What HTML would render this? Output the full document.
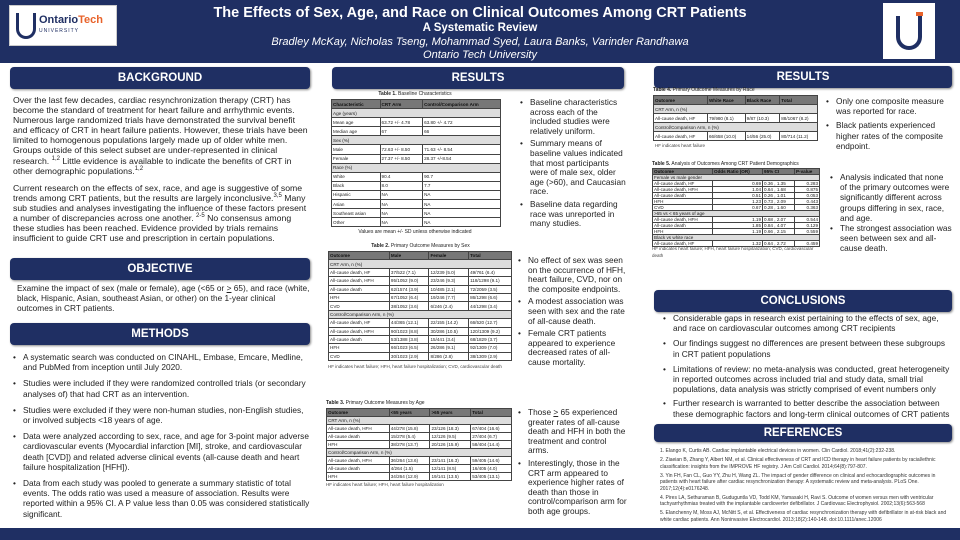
<!DOCTYPE html>
<html><head><meta charset="utf-8"><style>
*{margin:0;padding:0;box-sizing:border-box}
body{width:960px;height:540px;position:relative;background:#fff;font-family:"Liberation Sans",sans-serif;overflow:hidden;color:#222}
.a{position:absolute}
.hdr{background:#1f2f63;color:#fff;font-weight:bold;text-align:center;border-radius:4px;font-size:11.5px;line-height:22px;height:22px;box-shadow:1px 1px 2px #888}
.p{font-size:8.3px;line-height:10.2px;color:#222}
sup{line-height:0;font-size:6px}
ul{list-style:none}
li{position:relative;padding-left:10px;margin-bottom:6px}
li:before{content:"•";position:absolute;left:0}
.m li{margin-bottom:3px}
.m{line-height:9.6px}
table{border-collapse:collapse;font-size:4.6px;font-family:"Liberation Sans",sans-serif}
td{border:0.6px solid #444;padding:0 1px;height:8.4px;white-space:nowrap;line-height:7px}
tr.h td{background:#777;color:#111;font-weight:bold}
tr.s td{background:#ddd}
.cap{font-size:5px;text-align:center}
.nt{font-size:4.5px;color:#444}
.r td:nth-child(2),.r td:nth-child(4){text-align:right}
.r td{height:5.7px;line-height:5px}
.t1 td{height:9.1px}
.t3 td{height:7.8px}
.t4 td{height:9px}
</style></head><body>
<div class="a" style="left:0;top:0;width:960px;height:63px;background:#1f2f63"></div>
<div class="a" style="left:9px;top:5px;width:108px;height:41px;background:#fff;border:1px solid #ccc"></div>
<div class="a" style="left:16px;top:13px;width:20px;height:26px;border:3px solid #1f2f63;border-top:none;border-radius:0 0 10px 10px"></div>
<div class="a" style="left:39px;top:14px;font-size:11px;font-weight:bold;color:#1f2f63">Ontario<span style="color:#e8632b">Tech</span></div>
<div class="a" style="left:39px;top:28px;font-size:5px;color:#1f2f63;letter-spacing:1px">UNIVERSITY</div>
<div class="a" style="left:883px;top:3px;width:52px;height:56px;background:#fff"></div>
<div class="a" style="left:896px;top:16px;width:26px;height:34px;border:4px solid #1f2f63;border-top:none;border-radius:0 0 13px 13px"></div>
<div class="a" style="left:916px;top:12px;width:7px;height:4px;background:#e8632b"></div>
<div class="a" style="left:200px;top:5px;width:560px;text-align:center;color:#fff">
<div style="font-size:14.5px;font-weight:bold;line-height:16px">The Effects of Sex, Age, and Race on Clinical Outcomes Among CRT Patients</div>
<div style="font-size:11.5px;font-weight:bold;line-height:14px">A Systematic Review</div>
<div style="font-size:11px;font-style:italic;line-height:14px">Bradley McKay, Nicholas Tseng, Mohammad Syed, Laura Banks, Varinder Randhawa</div>
<div style="font-size:11px;font-style:italic;line-height:13px">Ontario Tech University</div>
</div>
<div class="a" style="left:0;top:528px;width:960px;height:12px;background:#1f2f63"></div>

<div class="a hdr" style="left:10px;top:67px;width:300px">BACKGROUND</div>
<div class="a hdr" style="left:332px;top:67px;width:292px">RESULTS</div>
<div class="a hdr" style="left:654px;top:66px;width:298px">RESULTS</div>
<div class="a hdr" style="left:10px;top:258px;width:300px">OBJECTIVE</div>
<div class="a hdr" style="left:10px;top:323px;width:300px">METHODS</div>
<div class="a hdr" style="left:654px;top:290px;width:298px">CONCLUSIONS</div>
<div class="a hdr" style="left:654px;top:424px;width:298px;height:18px;line-height:18px">REFERENCES</div>

<div class="a p" style="left:13px;top:95px;width:296px;font-size:8.7px;line-height:10.1px">Over the last few decades, cardiac resynchronization therapy (CRT) has become the standard of treatment for heart failure and arrhythmic events. Numerous large randomized trials have demonstrated the survival benefit and efficacy of CRT in heart failure patients. However, these trials have been limited to homogenous populations largely made up of older white men. Groups outside of this select subset are under-represented in clinical research. <sup>1,2</sup> Little evidence is available to indicate the benefits of CRT in other demographic populations.<sup>1,2</sup><br><div style="height:7px"></div>Current research on the effects of sex, race, and age is suggestive of some trends among CRT patients, but the results are largely inconclusive.<sup>3,5</sup> Many sub studies and analyses investigating the influence of these factors present a number of discrepancies across one another. <sup>2-5</sup> No consensus among these studies has been reached. Evidence provided by trials remains insufficient to guide CRT use and prescription in certain populations.</div>

<div class="a p" style="left:17px;top:283px;width:295px">Examine the impact of sex (male or female), age (&lt;65 or <u>&gt;</u> 65), and race (white, black, Hispanic, Asian, southeast Asian, or other) on the 1-year clinical outcomes in CRT patients.</div>

<ul class="a p" style="left:13px;top:352px;width:300px">
<li>A systematic search was conducted on CINAHL, Embase, Emcare, Medline, and PubMed from inception until July 2020.</li>
<li>Studies were included if they were randomized controlled trials (or secondary analyses of) that had CRT as an intervention.</li>
<li>Studies were excluded if they were non-human studies, non-English studies, or involved subjects &lt;18 years of age.</li>
<li>Data were analyzed according to sex, race, and age for 3-point major adverse cardiovascular events (Myocardial infarction [MI], stroke, and cardiovascular death [CVD]) and related adverse clinical events (all-cause death and heart failure hospitalization [HFH]).</li>
<li>Data from each study was pooled to generate a summary statistic of total events. The odds ratio was used a measure of association. Results were reported within a 95% CI. A P value less than 0.05 was considered statistically significant.</li>
</ul>

<div class="a cap" style="left:330px;top:91px;width:170px"><b>Table 1.</b> Baseline Characteristics</div>
<table class="a t1" style="left:331px;top:99px;width:170px">
<tr class="h"><td>Characteristic</td><td>CRT Arm</td><td>Control/Comparison Arm</td></tr>
<tr class="s"><td colspan="3">Age (years)</td></tr>
<tr><td>Mean age</td><td>63.72 +/- 4.78</td><td>63.80 +/- 4.72</td></tr>
<tr><td>Median age</td><td>67</td><td>66</td></tr>
<tr class="s"><td colspan="3">Sex (%)</td></tr>
<tr><td>Male</td><td>72.63 +/- 8.50</td><td>71.63 +/- 8.54</td></tr>
<tr><td>Female</td><td>27.37 +/- 8.50</td><td>28.37 +/-8.54</td></tr>
<tr class="s"><td colspan="3">Race (%)</td></tr>
<tr><td>White</td><td>90.4</td><td>90.7</td></tr>
<tr><td>Black</td><td>8.0</td><td>7.7</td></tr>
<tr><td>Hispanic</td><td>NA</td><td>NA</td></tr>
<tr><td>Asian</td><td>NA</td><td>NA</td></tr>
<tr><td>Southeast asian</td><td>NA</td><td>NA</td></tr>
<tr><td>Other</td><td>NA</td><td>NA</td></tr>
</table>
<div class="a cap" style="left:330px;top:229px;width:170px">Values are mean +/- SD unless otherwise indicated</div>

<div class="a cap" style="left:328px;top:243px;width:185px"><b>Table 2.</b> Primary Outcome Measures by Sex</div>
<table class="a" style="left:328px;top:251px;width:184px">
<tr class="h"><td>Outcome</td><td>Male</td><td>Female</td><td>Total</td></tr>
<tr class="s"><td colspan="4">CRT Arm, n (%)</td></tr>
<tr><td>All-cause death, HF</td><td>37/522 (7.1)</td><td>12/239 (5.0)</td><td>49/761 (6.4)</td></tr>
<tr><td>All-cause death, HFH</td><td>95/1052 (9.0)</td><td>23/246 (9.3)</td><td>118/1298 (9.1)</td></tr>
<tr><td>All-cause death</td><td>62/1574 (3.9)</td><td>10/485 (2.1)</td><td>72/2059 (3.5)</td></tr>
<tr><td>HFH</td><td>67/1052 (6.4)</td><td>19/246 (7.7)</td><td>86/1298 (6.6)</td></tr>
<tr><td>CVD</td><td>38/1052 (3.6)</td><td>6/246 (2.4)</td><td>44/1298 (3.4)</td></tr>
<tr class="s"><td colspan="4">Control/Comparison Arm, n (%)</td></tr>
<tr><td>All-cause death, HF</td><td>44/365 (12.1)</td><td>22/155 (14.2)</td><td>66/520 (12.7)</td></tr>
<tr><td>All-cause death, HFH</td><td>90/1023 (8.8)</td><td>30/286 (10.5)</td><td>120/1309 (9.2)</td></tr>
<tr><td>All-cause death</td><td>53/1388 (3.8)</td><td>15/441 (3.4)</td><td>68/1829 (3.7)</td></tr>
<tr><td>HFH</td><td>66/1023 (6.5)</td><td>26/286 (9.1)</td><td>92/1309 (7.0)</td></tr>
<tr><td>CVD</td><td>30/1023 (2.9)</td><td>8/286 (2.8)</td><td>38/1309 (2.9)</td></tr>
</table>
<div class="a nt" style="left:328px;top:363px;width:180px;line-height:7px">HF indicates heart failure; HFH, heart failure hospitalization; CVD, cardiovascular death</div>

<div class="a cap" style="left:326px;top:400px;text-align:left"><b>Table 3.</b> Primary Outcome Measures by Age</div>
<table class="a t3" style="left:326px;top:408px;width:186px">
<tr class="h"><td>Outcome</td><td>&lt;65 years</td><td>&gt;65 years</td><td>Total</td></tr>
<tr class="s"><td colspan="4">CRT Arm, n (%)</td></tr>
<tr><td>All-cause death, HFH</td><td>44/278 (15.8)</td><td>23/126 (18.3)</td><td>67/404 (16.6)</td></tr>
<tr><td>All-cause death</td><td>15/278 (5.4)</td><td>12/126 (9.5)</td><td>27/404 (6.7)</td></tr>
<tr><td>HFH</td><td>38/278 (13.7)</td><td>20/126 (15.9)</td><td>58/404 (14.4)</td></tr>
<tr class="s"><td colspan="4">Control/Comparison Arm, n (%)</td></tr>
<tr><td>All-cause death, HFH</td><td>36/264 (13.6)</td><td>23/141 (16.3)</td><td>59/405 (14.6)</td></tr>
<tr><td>All-cause death</td><td>4/264 (1.5)</td><td>12/141 (8.5)</td><td>16/405 (4.0)</td></tr>
<tr><td>HFH</td><td>34/264 (12.9)</td><td>19/141 (13.5)</td><td>53/405 (13.1)</td></tr>
</table>
<div class="a nt" style="left:326px;top:482px">HF indicates heart failure; HFH, heart failure hospitalization</div>

<ul class="a p m" style="left:520px;top:98px;width:108px">
<li>Baseline characteristics across each of the included studies were relatively uniform.</li>
<li>Summary means of baseline values indicated that most participants were of male sex, older age (&gt;60), and Caucasian race.</li>
<li>Baseline data regarding race was unreported in many studies.</li>
</ul>
<ul class="a p m" style="left:518px;top:256px;width:110px">
<li>No effect of sex was seen on the occurrence of HFH, heart failure, CVD, nor on the composite endpoints.</li>
<li>A modest association was seen with sex and the rate of all-cause death.</li>
<li>Female CRT patients appeared to experience decreased rates of all-cause mortality.</li>
</ul>
<ul class="a p m" style="left:518px;top:408px;width:110px">
<li>Those <u>&gt;</u> 65 experienced greater rates of all-cause death and HFH in both the treatment and control arms.</li>
<li>Interestingly, those in the CRT arm appeared to experience higher rates of death than those in control/comparison arm for both age groups.</li>
</ul>

<div class="a cap" style="left:653px;top:87px;text-align:left"><b>Table 4.</b> Primary Outcome Measures by Race</div>
<table class="a t4" style="left:653px;top:95px;width:165px">
<tr class="h"><td>Outcome</td><td>White Race</td><td>Black Race</td><td>Total</td></tr>
<tr class="s"><td colspan="4">CRT Arm, n (%)</td></tr>
<tr><td>All-cause death, HF</td><td>79/980 (8.1)</td><td>9/87 (10.3)</td><td>88/1067 (8.2)</td></tr>
<tr class="s"><td colspan="4">Control/Comparison Arm, n (%)</td></tr>
<tr><td>All-cause death, HF</td><td>66/658 (10.0)</td><td>14/56 (25.0)</td><td>80/714 (11.2)</td></tr>
</table>
<div class="a nt" style="left:655px;top:143px">HF indicates heart failure</div>

<div class="a cap" style="left:652px;top:161px;text-align:left"><b>Table 5.</b> Analysis of Outcomes Among CRT Patient Demographics</div>
<table class="a r" style="left:652px;top:168px;width:168px">
<tr class="h"><td style="width:60px">Outcome</td><td style="text-align:left">Odds Ratio (OR)</td><td>95% CI</td><td style="text-align:left">P-value</td></tr>
<tr class="s"><td colspan="4">Female vs male gender</td></tr>
<tr><td>All-cause death, HF</td><td>0.69</td><td>0.36 , 1.35</td><td>0.283</td></tr>
<tr><td>All-cause death, HFH</td><td>1.04</td><td>0.64 , 1.68</td><td>0.875</td></tr>
<tr><td>All-cause death</td><td>0.51</td><td>0.26 , 1.01</td><td>0.053</td></tr>
<tr><td>HFH</td><td>1.23</td><td>0.73 , 2.09</td><td>0.443</td></tr>
<tr><td>CVD</td><td>0.67</td><td>0.28 , 1.60</td><td>0.363</td></tr>
<tr class="s"><td colspan="4">&gt;65 vs &lt; 65 years of age</td></tr>
<tr><td>All-cause death, HFH</td><td>1.19</td><td>0.68 , 2.07</td><td>0.544</td></tr>
<tr><td>All-cause death</td><td>1.85</td><td>0.84 , 4.07</td><td>0.129</td></tr>
<tr><td>HFH</td><td>1.19</td><td>0.66 , 2.15</td><td>0.559</td></tr>
<tr class="s"><td colspan="4">Black vs white race</td></tr>
<tr><td>All-cause death, HF</td><td>1.32</td><td>0.64 , 2.72</td><td>0.459</td></tr>
</table>
<div class="a nt" style="left:652px;top:246px;width:170px;line-height:6.5px">HF indicates heart failure; HFH, heart failure hospitalization; CVD, cardiovascular death</div>

<ul class="a p" style="left:826px;top:96px;width:126px">
<li style="margin-bottom:4px">Only one composite measure was reported for race.</li>
<li>Black patients experienced higher rates of the composite endpoint.</li>
</ul>
<ul class="a p" style="left:830px;top:172px;width:122px">
<li style="margin-bottom:0">Analysis indicated that none of the primary outcomes were significantly different across groups differing in sex, race, and age.</li>
<li>The strongest association was seen between sex and all-cause death.</li>
</ul>

<ul class="a p" style="left:663px;top:313px;width:290px">
<li style="margin-bottom:5px">Considerable gaps in research exist pertaining to the effects of sex, age, and race on cardiovascular outcomes among CRT recipients</li>
<li style="margin-bottom:5px">Our findings suggest no differences are present between these subgroups in CRT patient populations</li>
<li style="margin-bottom:4px">Limitations of review: no meta-analysis was conducted, great heterogeneity in reported outcomes across included trial and study data, small trial populations, data analysis was strictly comprised of event numbers only</li>
<li>Further research is warranted to better describe the association between these demographic factors and long-term clinical outcomes of CRT patients</li>
</ul>

<div class="a" style="left:660px;top:448px;width:294px;font-size:5px;line-height:6.5px;color:#333">
<div style="margin-bottom:2.5px">1. Elango K, Curtis AB. Cardiac implantable electrical devices in women. Clin Cardiol. 2018;41(2):232-238.</div>
<div style="margin-bottom:2.5px">2. Ziaeian B, Zhang Y, Albert NM, et al. Clinical effectiveness of CRT and ICD therapy in heart failure patients by racial/ethnic classification: insights from the IMPROVE HF registry. J Am Coll Cardiol. 2014;64(8):797-807.</div>
<div style="margin-bottom:2.5px">3. Yin FH, Fan CL, Guo YY, Zhu H, Wang ZL. The impact of gender difference on clinical and echocardiographic outcomes in patients with heart failure after cardiac resynchronization therapy: A systematic review and meta-analysis. PLoS One. 2017;12(4):e0176248.</div>
<div style="margin-bottom:2.5px">4. Pires LA, Sethuraman B, Guduguntla VD, Todd KM, Yamasaki H, Ravi S. Outcome of women versus men with ventricular tachyarrhythmias treated with the implantable cardioverter defibrillator. J Cardiovasc Electrophysiol. 2002;13(6):563-568</div>
<div>5. Elanchenny M, Moss AJ, McNitt S, et al. Effectiveness of cardiac resynchronization therapy with defibrillator in at-risk black and white cardiac patients. Ann Noninvasive Electrocardiol. 2013;18(2):140-148. doi:10.1111/anec.12006</div>
</div>
</body></html>
